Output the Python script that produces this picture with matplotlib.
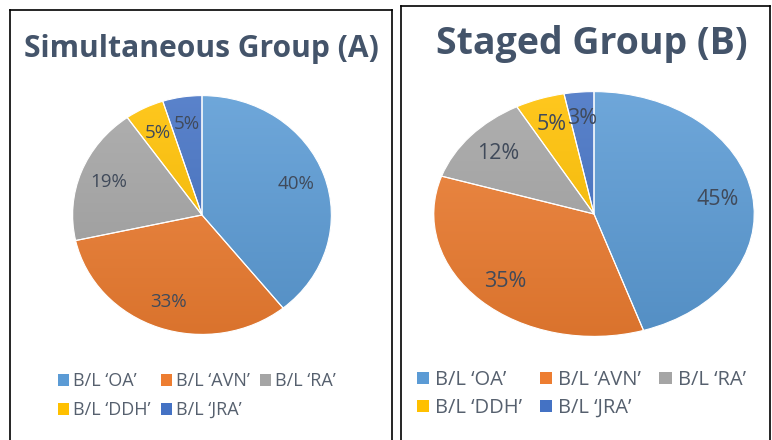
import numpy as np
import matplotlib
matplotlib.use("Agg")
import matplotlib.pyplot as plt
from matplotlib.patches import Patch
from matplotlib.lines import Line2D
from matplotlib.colors import to_rgb

categories = ["B/L \u2018OA\u2019", "B/L \u2018AVN\u2019", "B/L \u2018RA\u2019", "B/L \u2018DDH\u2019", "B/L \u2018JRA\u2019"]
values_a = [40, 33, 19, 5, 5]
values_b = [45, 35, 12, 5, 3]
title_a = "Simultaneous Group (A)"
title_b = "Staged Group (B)"
colors = ["#5B9BD5", "#ED7D31", "#A5A5A5", "#FFC000", "#4472C4"]

W, H = 772, 440
fig = plt.figure(figsize=(W / 100, H / 100), dpi=100)
fig.patch.set_facecolor("white")
FONT = "Open Sans"
TITLE_C = "#44546A"
LABEL_C = "#404A5A"
LEG_C = "#56606E"


def px_axes(cx, cy, rx, ry):
    return fig.add_axes([(cx - rx) / W, (H - cy - ry) / H, 2 * rx / W, 2 * ry / H])


def shade(c, f):
    r = np.array(to_rgb(c))
    if f >= 0:
        return r + (1 - r) * f
    return r * (1 + f)


def draw_pie(ax, vals, fs, ldist):
    wedges, _ = ax.pie(vals, colors=colors, startangle=90, counterclock=False,
                       radius=1.0, wedgeprops=dict(edgecolor="white", linewidth=0.8))
    for w, c in zip(wedges, colors):
        top = shade(c, 0.12)
        bot = shade(c, -0.08)
        t = np.linspace(0, 1, 256)[:, None]
        grad = top[None, :] * (1 - t) + bot[None, :] * t
        img = ax.imshow(grad[:, None, :], extent=[-1, 1, -1, 1], origin="upper",
                        aspect="auto", zorder=1, interpolation="bilinear")
        img.set_clip_path(w)
        w.set_facecolor("none")
        w.set_zorder(2)
    for w, v in zip(wedges, vals):
        ang = np.deg2rad((w.theta1 + w.theta2) / 2)
        ax.text(ldist * np.cos(ang), ldist * np.sin(ang), f"{v}%", ha="center", va="center",
                fontsize=fs, color=LABEL_C, family=FONT, zorder=5)
    ax.set_xlim(-1.005, 1.005)
    ax.set_ylim(-1.005, 1.005)
    ax.set_aspect("auto")
    ax.axis("off")


ax_a = px_axes(202, 215, 130, 120)
draw_pie(ax_a, values_a, 13.5, 0.77)
ax_b = px_axes(594, 214, 161, 123)
draw_pie(ax_b, values_b, 15.5, 0.78)

fig.text(201 / W, 1 - 49 / H, title_a, ha="center", va="center", fontsize=21.6,
         fontweight="bold", color=TITLE_C, family=FONT)
fig.text(592 / W, 1 - 44 / H, title_b, ha="center", va="center", fontsize=27,
         fontweight="bold", color=TITLE_C, family=FONT)

order = [0, 3, 1, 4, 2]
handles = [Patch(facecolor=colors[i], edgecolor="none") for i in order]
labels = [categories[i] for i in order]
fig.legend(handles, labels, ncol=3, loc="upper left", bbox_to_anchor=(44 / W, 1 - 358 / H),
           frameon=False, prop=dict(family=FONT, size=13), labelcolor=LEG_C,
           handlelength=0.6, handleheight=0.6, handletextpad=0.2, columnspacing=0.6,
           labelspacing=0.6, borderpad=0.3)
fig.legend(handles, labels, ncol=3, loc="upper left", bbox_to_anchor=(401 / W, 1 - 354 / H),
           frameon=False, prop=dict(family=FONT, size=14.5), labelcolor=LEG_C,
           handlelength=0.6, handleheight=0.6, handletextpad=0.3, columnspacing=0.9,
           labelspacing=0.4, borderpad=0.3)

# panel borders
def vline(x, y0, y1):
    fig.add_artist(Line2D([x / W, x / W], [1 - y0 / H, 1 - y1 / H], color="black", lw=1.2))

def hline(y, x0, x1):
    fig.add_artist(Line2D([x0 / W, x1 / W], [1 - y / H, 1 - y / H], color="black", lw=1.2))

vline(10, 10, 441); vline(392, 10, 441); hline(10, 10, 392)
vline(401, 6, 441); vline(770, 6, 441); hline(6, 401, 770)

fig.savefig("out.png", dpi=100, facecolor="white")
